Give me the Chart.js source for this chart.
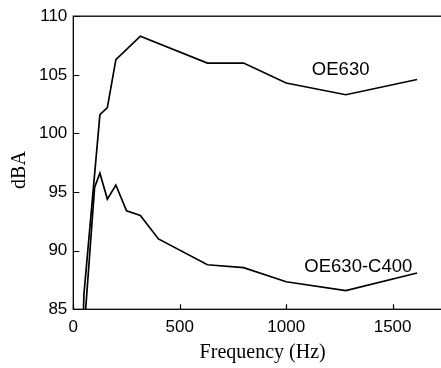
<!DOCTYPE html>
<html>
<head>
<meta charset="utf-8">
<script src="https://cdn.jsdelivr.net/npm/chart.js@4/dist/chart.umd.min.js"></script>
<style>
  html, body { margin: 0; padding: 0; background: #fff; overflow: hidden; }
  #wrap { width: 452px; height: 368px; }
</style>
</head>
<body>
<div id="wrap"><canvas id="noiseChart"></canvas></div>
<script>
/* ===== Noise level vs frequency ===== */

// OE630 (upper curve)
const oeFreq = [40, 50, 125, 160, 200, 315, 630, 800, 1000, 1280, 1615];
const oeLevel = [80, 86.3, 101.6, 102.2, 106.3, 108.3, 106.0, 106.0, 104.3, 103.3, 104.6];

// OE630-C400 (lower curve)
const ocFreq = [56, 100, 125, 160, 200, 250, 315, 400, 630, 800, 1000, 1280, 1615];
const ocLevel = [84.5, 95.4, 96.6, 94.4, 95.6, 93.4, 93.0, 91.0, 88.8, 88.55, 87.35, 86.6, 88.1];

const xTicks = [0, 500, 1000, 1500];
const yTicks = [85, 90, 95, 100, 105, 110];

const curveLabels = [
  { text: 'OE630', x: 1256, y: 105.4 },
  { text: 'OE630-C400', x: 1339, y: 88.65 }
];

const toPoints = (xs, ys) => xs.map((x, i) => ({ x: x, y: ys[i] }));

const SANS = '"Liberation Sans", Arial, sans-serif';
const SERIF = '"Liberation Serif", "Times New Roman", serif';

// frame + inward tick marks + curve labels + y title
const framePlugin = {
  id: 'frame',
  afterDraw(chart) {
    const { ctx, chartArea: a, scales } = chart;
    ctx.save();
    ctx.strokeStyle = '#000';
    ctx.lineWidth = 1.3;
    ctx.strokeRect(a.left, a.top, a.right - a.left, a.bottom - a.top);

    ctx.beginPath();
    xTicks.forEach(v => {
      const px = Math.round(scales.x.getPixelForValue(v)) + 0.5;
      ctx.moveTo(px, a.bottom);
      ctx.lineTo(px, a.bottom - 5);
    });
    yTicks.forEach(v => {
      const py = Math.round(scales.y.getPixelForValue(v)) + 0.5;
      ctx.moveTo(a.left, py);
      ctx.lineTo(a.left + 6, py);
    });
    ctx.lineWidth = 1.2;
    ctx.stroke();

    ctx.fillStyle = '#000';
    ctx.font = '18.5px ' + SANS;
    ctx.textAlign = 'center';
    ctx.textBaseline = 'middle';
    curveLabels.forEach(l => {
      ctx.fillText(l.text, scales.x.getPixelForValue(l.x), scales.y.getPixelForValue(l.y));
    });

    // y axis title
    ctx.font = '20px ' + SERIF;
    ctx.translate(20, 170);
    ctx.rotate(-Math.PI / 2);
    ctx.fillText('dBA', 0, 0);
    ctx.restore();
  }
};

const ctx = document.getElementById('noiseChart').getContext('2d');
new Chart(ctx, {
  type: 'line',
  data: {
    datasets: [
      { label: 'OE630', data: toPoints(oeFreq, oeLevel) },
      { label: 'OE630-C400', data: toPoints(ocFreq, ocLevel) }
    ]
  },
  options: {
    responsive: true,
    maintainAspectRatio: false,
    animation: false,
    layout: { padding: { top: 15, right: 0, bottom: 0, left: 0 } },
    elements: {
      line: { borderColor: '#000', borderWidth: 1.7, tension: 0, fill: false },
      point: { radius: 0 }
    },
    plugins: {
      legend: { display: false },
      tooltip: { enabled: false }
    },
    scales: {
      x: {
        type: 'linear',
        min: 0,
        max: 1779,
        afterBuildTicks: s => { s.ticks = xTicks.map(v => ({ value: v })); },
        afterFit: s => { s.height = 58.7; },
        grid: { display: false, drawTicks: false },
        border: { display: false },
        ticks: {
          color: '#000',
          padding: 8,
          maxRotation: 0,
          callback: v => String(v),
          font: { family: SANS, size: 17 }
        },
        title: {
          display: true,
          text: 'Frequency (Hz)',
          color: '#000',
          padding: { top: 0, bottom: 3 },
          font: { family: SERIF, size: 20 }
        }
      },
      y: {
        min: 85,
        max: 110,
        afterBuildTicks: s => { s.ticks = yTicks.map(v => ({ value: v })); },
        afterFit: s => { s.width = 73.3; },
        grid: { display: false, drawTicks: false },
        border: { display: false },
        ticks: {
          color: '#000',
          padding: 6,
          font: { family: SANS, size: 17 }
        },
        title: { display: false }
      }
    }
  },
  plugins: [framePlugin]
});
</script>
</body>
</html>
